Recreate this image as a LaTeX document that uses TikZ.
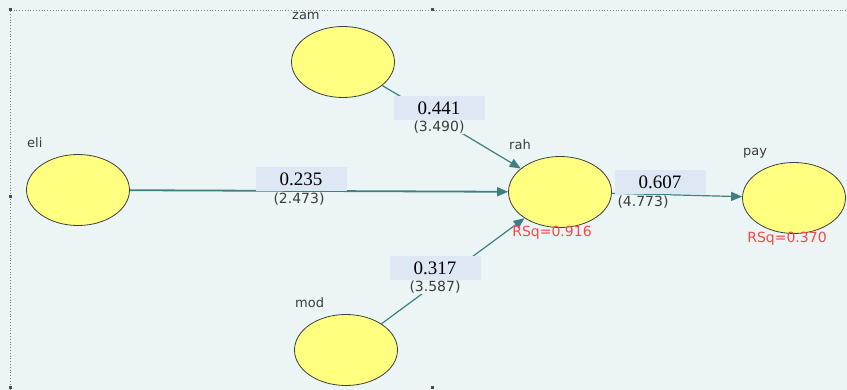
\documentclass[tikz,border=0pt]{standalone}
\usepackage{fontspec}
\setmainfont{Liberation Serif}
\setsansfont{DejaVu Sans}
\usepackage{tikz}
\usetikzlibrary{arrows.meta}
\usetikzlibrary{shapes.geometric}
\usetikzlibrary{positioning}
\definecolor{canvas}{RGB}{235,245,245}
\definecolor{boxblue}{RGB}{221,232,244}
\definecolor{lvyellow}{RGB}{255,255,128}
\definecolor{pathteal}{RGB}{62,128,128}
\definecolor{rsqred}{RGB}{255,70,70}
\definecolor{lblgray}{RGB}{60,60,60}
\tikzset{lv/.style={ellipse,draw=black!75,fill=lvyellow,line width=0.8pt,minimum width=103pt,minimum height=71pt,inner sep=0pt}}
\tikzset{lvname/.style={anchor=base west,text=lblgray,font=\sffamily\fontsize{13}{13}\selectfont,inner sep=0pt}}
\tikzset{coef/.style={fill=boxblue,minimum width=91pt,minimum height=24pt,inner sep=0pt,font=\rmfamily\fontsize{19}{19}\selectfont}}
\tikzset{tval/.style={fill=canvas,inner sep=1pt,text=lblgray,font=\sffamily\fontsize{14}{14}\selectfont}}
\tikzset{rsq/.style={text=rsqred,font=\sffamily\fontsize{14}{14}\selectfont,inner sep=0pt}}
\tikzset{relpath/.style={draw=pathteal,line width=1.2pt,-{Triangle[length=11pt,width=9pt]}}}
\begin{document}
\begin{tikzpicture}[x=1pt,y=-1pt]
\useasboundingbox (0,0) rectangle (847,390);
\fill[canvas] (0,0) rectangle (847,390);
\draw[gray,dotted,line width=0.8pt] (10,390) -- (10,10) -- (847,10);
\foreach \x / \y in {10/10,432/10,10/197,10/388,432/388}
{
	\fill[black!70] (\x-1.5,\y-1.5) rectangle (\x+1.5,\y+1.5);
}

\foreach \n / \x / \y in {zam/343/62,eli/78/190,rah/560/192,pay/794/198,mod/346/350}
{
	\node (\n) at (\x,\y) [lv] {};
	\node (\n name) at (\x-51,\y-42) [lvname] {\n};
}

\draw[relpath] (zam) -- (rah);
\draw[relpath,line width=1.8pt] (eli) -- (rah);
\draw[relpath] (mod) -- (rah);
\draw[relpath] (rah) -- (pay);

\foreach \i / \v / \t / \x / \y / \tx / \ty in {1/0.441/3.490/439/108/439/127,2/0.235/2.473/301/179/299/199,3/0.607/4.773/660/182/643/202,4/0.317/3.587/435/268/435/287}
{
	\node (b\i) at (\x,\y) [coef] {\v};
	\node (t\i) at (\tx,\ty) [tval] {(\t)};
}

\node (rsq rah) at (552,233) [rsq] {RSq=0.916};
\node (rsq pay) at (787,239) [rsq] {RSq=0.370};
\end{tikzpicture}
\end{document}
